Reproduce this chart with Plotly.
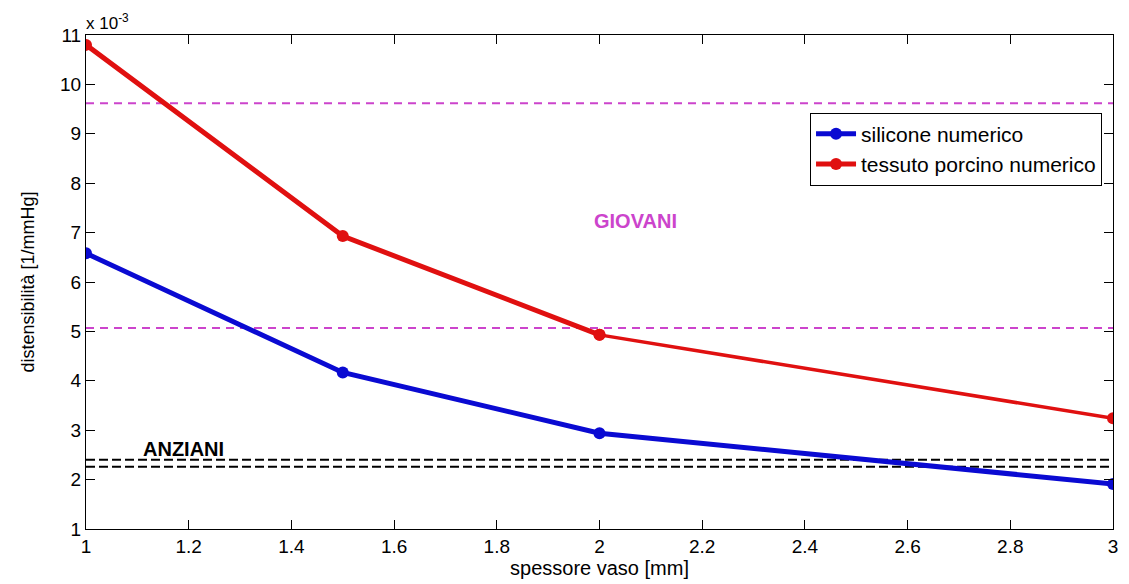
import plotly.graph_objects as go

# Data (distensibilità in units of 1e-3 1/mmHg)
spessore = [1.0, 1.5, 2.0, 3.0]
silicone = [6.58, 4.17, 2.94, 1.91]
tessuto = [10.80, 6.93, 4.93, 3.24]
giovani_lims = [9.62, 5.07]
anziani_lims = [2.40, 2.26]
x_ticks = [1, 1.2, 1.4, 1.6, 1.8, 2, 2.2, 2.4, 2.6, 2.8, 3]
y_ticks = [1, 2, 3, 4, 5, 6, 7, 8, 9, 10, 11]

FONT = "Liberation Sans, Arial, sans-serif"
BLUE = "#0a0ad2"
RED = "#e01010"
MAG = "#cc44cc"

fig = go.Figure()
fig.add_trace(go.Scatter(x=spessore, y=silicone, mode="lines+markers",
                         name="silicone numerico",
                         line=dict(color=BLUE, width=5),
                         marker=dict(color=BLUE, size=12)))
# the last red segment is drawn thinner in the reference
fig.add_trace(go.Scatter(x=spessore[2:], y=tessuto[2:], mode="lines+markers",
                         showlegend=False, hoverinfo="skip",
                         line=dict(color=RED, width=3.5),
                         marker=dict(color=RED, size=12)))
fig.add_trace(go.Scatter(x=spessore[:3], y=tessuto[:3], mode="lines+markers",
                         name="tessuto porcino numerico",
                         line=dict(color=RED, width=5),
                         marker=dict(color=RED, size=12)))

for v in giovani_lims:
    fig.add_shape(type="line", xref="x", yref="y", x0=1, x1=3, y0=v, y1=v,
                  line=dict(color=MAG, width=2, dash="8px,6px"), layer="below")
for v in anziani_lims:
    fig.add_shape(type="line", xref="x", yref="y", x0=1, x1=3, y0=v, y1=v,
                  line=dict(color="black", width=2, dash="9px,4px"), layer="below")

fig.add_annotation(x=2.07, y=7.23, xref="x", yref="y", text="<b>GIOVANI</b>",
                   showarrow=False, font=dict(family=FONT, size=20, color=MAG))
fig.add_annotation(x=1.19, y=2.62, xref="x", yref="y", text="<b>ANZIANI</b>",
                   showarrow=False, font=dict(family=FONT, size=20, color="black"))
fig.add_annotation(x=0, y=1, xref="paper", yref="paper", xanchor="left", yanchor="bottom",
                   text="x 10<sup>-3</sup>", showarrow=False, yshift=0, xshift=-2,
                   font=dict(family=FONT, size=17, color="black"))

axis_common = dict(showgrid=False, zeroline=False, showline=True, linecolor="black",
                   linewidth=1, mirror="ticks", ticks="inside", ticklen=9,
                   tickcolor="black", tickwidth=1,
                   tickfont=dict(family=FONT, size=19, color="black"))

fig.update_xaxes(range=[1, 3], tickvals=x_ticks, ticktext=[f"{t:g}" for t in x_ticks],
                 title=dict(text="spessore vaso [mm]", standoff=2,
                            font=dict(family=FONT, size=20, color="black")),
                 **axis_common)
fig.update_yaxes(range=[1, 11], tickvals=y_ticks, ticktext=[str(t) for t in y_ticks],
                 title=dict(text="distensibilità [1/mmHg]", standoff=20,
                            font=dict(family=FONT, size=18, color="black")),
                 **axis_common)

fig.update_layout(
    width=1129, height=584,
    margin=dict(l=86, r=11, t=35, b=53),
    paper_bgcolor="white", plot_bgcolor="white",
    font=dict(family=FONT, size=18, color="black"),
    showlegend=True,
    legend=dict(x=0.705, y=0.843, xanchor="left", yanchor="top",
                bgcolor="white", bordercolor="black", borderwidth=1,
                font=dict(family=FONT, size=21, color="black"),
                itemwidth=40, tracegroupgap=0),
)

fig.write_html("out.html")
